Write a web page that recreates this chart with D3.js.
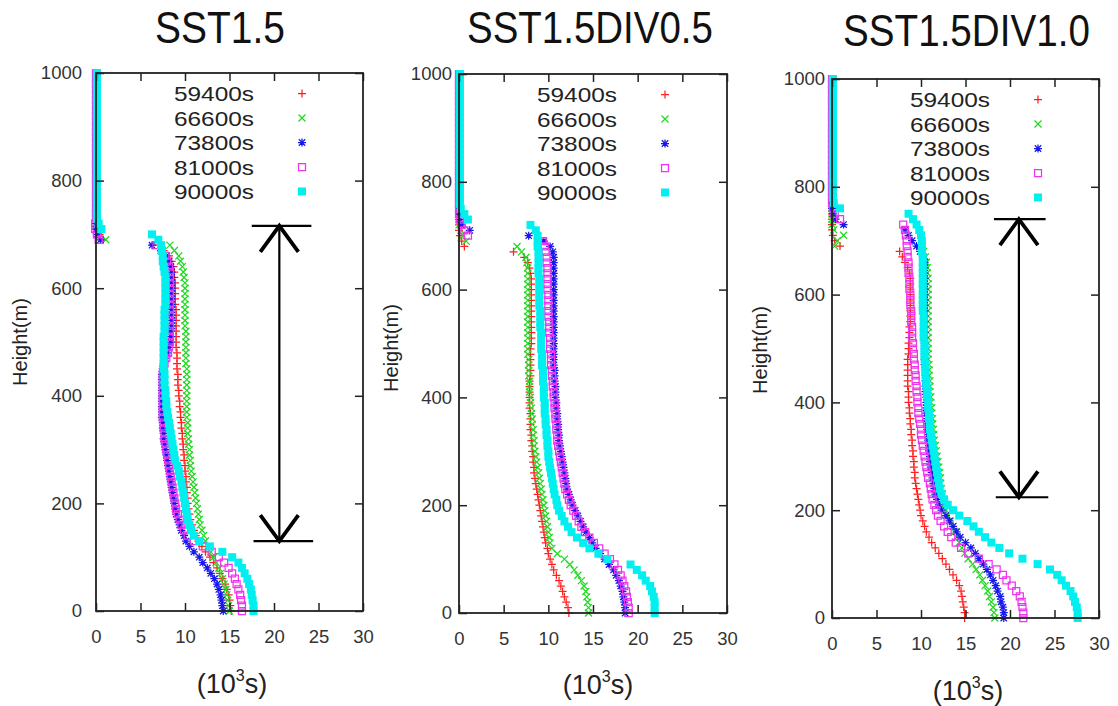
<!DOCTYPE html>
<html><head><meta charset="utf-8">
<script src="https://cdn.jsdelivr.net/npm/d3@7"></script>
<style>html,body{margin:0;padding:0;background:#fff;} svg{display:block;}</style>
</head><body>
<script>
// ---------------- DATA ----------------
const heights = [
  0,10,20,30,40,50,60,70,80,90,
  100,110,120,130,140,150,160,170,180,190,
  200,210,220,230,240,250,260,270,280,290,
  300,310,320,330,340,350,360,370,380,390,
  400,410,420,430,440,450,460,470,480,490,
  500,510,520,530,540,550,560,570,580,590,
  600,610,620,630,640,650,660,670,680,690,
  700,710,720,730,740,750,760,770,780,790,
  800,810,820,830,840,850,860,870,880,890,
  900,910,920,930,940,950,960,970,980,990,
  1000];
const timeLabels = ["59400s","66600s","73800s","81000s","90000s"];
const panelTitles = ["SST1.5","SST1.5DIV0.5","SST1.5DIV1.0"];
const xTickValues = [0,5,10,15,20,25,30];
const yTickValues = [0,200,400,600,800,1000];

// ---- SST1.5 ----
const sst15_t59400 = [
  15.2,15.1,15.0,14.9,14.7,14.5,14.2,13.9,13.6,13.2,
  12.8,12.3,11.9,11.5,11.2,11.0,10.8,10.6,10.5,10.4,
  10.3,10.3,10.2,10.2,10.1,10.1,10.0,10.0,9.9,9.9,
  9.8,9.8,9.7,9.7,9.6,9.6,9.5,9.5,9.4,9.4,
  9.3,9.3,9.2,9.2,9.2,9.1,9.1,9.1,9.1,9.0,
  9.0,9.0,9.0,9.0,9.0,9.0,9.0,8.9,8.9,8.9,
  8.9,8.9,8.8,8.8,8.7,8.5,8.2,7.6,6.4,0.8,
  0.4,0.1,0,0,0,0,0,0,0,0,
  0,0,0,0,0,0,0,0,0,0,
  0,0,0,0,0,0,0,0,0,0,
  0];
const sst15_t66600 = [
  15.0,14.9,14.8,14.7,14.6,14.4,14.2,14.0,13.8,13.5,
  13.2,12.9,12.6,12.3,12.1,11.9,11.7,11.6,11.5,11.4,
  11.3,11.2,11.1,11.0,10.9,10.8,10.7,10.6,10.6,10.5,
  10.5,10.4,10.4,10.3,10.3,10.3,10.2,10.2,10.2,10.2,
  10.2,10.2,10.2,10.2,10.2,10.2,10.1,10.1,10.1,10.1,
  10.1,10.1,10.1,10.0,10.0,10.0,10.0,10.0,10.0,10.0,
  10.0,10.0,9.9,9.8,9.7,9.5,9.3,8.8,8.3,1.1,
  0.5,0.2,0,0,0,0,0,0,0,0,
  0,0,0,0,0,0,0,0,0,0,
  0,0,0,0,0,0,0,0,0,0,
  0];
const sst15_t73800 = [
  14.3,14.2,14.1,14.0,13.8,13.6,13.3,12.9,12.5,12.0,
  11.6,11.0,10.5,10.1,9.9,9.6,9.4,9.2,9.0,8.9,
  8.8,8.7,8.6,8.5,8.4,8.3,8.2,8.1,8.0,7.9,
  7.8,7.7,7.6,7.6,7.5,7.5,7.4,7.4,7.4,7.4,
  7.4,7.4,7.4,7.4,7.4,7.5,7.6,7.8,8.0,8.2,
  8.4,8.4,8.4,8.5,8.5,8.5,8.5,8.5,8.5,8.5,
  8.5,8.5,8.5,8.5,8.4,8.2,7.9,7.3,6.3,0.5,
  0.1,0,0,0,0,0,0,0,0,0,
  0,0,0,0,0,0,0,0,0,0,
  0,0,0,0,0,0,0,0,0,0,
  0];
const sst15_t81000 = [
  16.4,16.4,16.3,16.2,16.0,15.8,15.6,15.3,14.9,14.4,
  13.8,13.0,12.0,11.0,10.3,9.9,9.6,9.4,9.2,9.0,
  8.9,8.8,8.7,8.6,8.5,8.4,8.3,8.2,8.1,8.0,
  7.9,7.8,7.7,7.7,7.6,7.6,7.5,7.5,7.5,7.5,
  7.5,7.5,7.5,7.5,7.5,7.6,7.7,7.9,8.1,8.2,
  8.3,8.3,8.3,8.3,8.3,8.3,8.3,8.3,8.3,8.3,
  8.3,8.3,8.3,8.3,8.2,8.0,7.8,7.4,6.8,0.3,
  0.1,-0.1,-0.1,0,0,0,0,0,0,0,
  0,0,0,0,0,0,0,0,0,0,
  0,0,0,0,0,0,0,0,0,0,
  0];
const sst15_t90000 = [
  17.7,17.7,17.6,17.5,17.4,17.2,17.0,16.7,16.4,16.0,
  15.3,14.2,12.8,11.6,11.0,10.7,10.5,10.3,10.2,10.1,
  10.0,9.9,9.8,9.7,9.6,9.4,9.3,9.1,8.9,8.8,
  8.7,8.6,8.5,8.4,8.3,8.2,8.1,8.0,7.9,7.9,
  7.8,7.8,7.7,7.7,7.7,7.6,7.6,7.6,7.6,7.6,
  7.6,7.6,7.7,7.7,7.7,7.7,7.7,7.8,7.8,7.8,
  7.8,7.8,7.8,7.7,7.6,7.5,7.5,7.4,7.3,7.0,
  6.3,0.6,0.3,0.1,0.1,0.1,0.1,0.1,0.1,0.1,
  0.1,0.1,0.1,0.1,0.1,0.1,0.1,0.1,0.1,0.1,
  0.1,0.1,0.1,0.1,0.1,0.1,0.1,0.1,0.1,0.1,
  0.1];

// ---- SST1.5DIV0.5 ----
const div05_t59400 = [
  12.3,12.2,12.0,11.8,11.6,11.4,11.2,10.9,10.6,10.4,
  10.2,10.0,9.9,9.7,9.6,9.5,9.4,9.3,9.2,9.1,
  9.0,8.9,8.8,8.7,8.6,8.5,8.4,8.4,8.3,8.3,
  8.2,8.2,8.1,8.1,8.0,8.0,8.0,8.0,7.9,7.9,
  7.9,7.9,7.9,7.9,8.0,8.0,8.0,8.0,8.0,8.0,
  8.1,8.1,8.1,8.1,8.1,8.1,8.1,8.1,8.1,8.1,
  8.1,8.1,8.1,8.0,7.9,7.7,7.3,6.1,0.6,0.3,
  0.1,0,0,0,0,0,0,0,0,0,
  0,0,0,0,0,0,0,0,0,0,
  0,0,0,0,0,0,0,0,0,0,
  0];
const div05_t66600 = [
  14.5,14.5,14.4,14.3,14.2,14.0,13.7,13.3,12.9,12.4,
  11.8,11.0,10.4,10.2,10.1,10.0,9.9,9.8,9.7,9.6,
  9.5,9.4,9.3,9.2,9.1,9.0,8.9,8.8,8.7,8.6,
  8.5,8.4,8.4,8.3,8.3,8.2,8.2,8.1,8.1,8.0,
  8.0,7.9,7.9,7.9,7.8,7.8,7.8,7.8,7.7,7.7,
  7.7,7.7,7.7,7.7,7.7,7.7,7.7,7.7,7.7,7.7,
  7.7,7.7,7.7,7.7,7.7,7.6,7.5,7.0,6.5,0.8,
  0.4,0.2,0,0,0,0,0,0,0,0,
  0,0,0,0,0,0,0,0,0,0,
  0,0,0,0,0,0,0,0,0,0,
  0];
const div05_t73800 = [
  18.6,18.6,18.5,18.4,18.3,18.1,17.9,17.6,17.3,16.8,
  16.3,15.8,15.3,14.9,14.6,14.2,13.9,13.6,13.3,13.0,
  12.7,12.5,12.3,12.1,12.0,11.9,11.8,11.7,11.6,11.5,
  11.4,11.3,11.2,11.2,11.1,11.1,11.0,11.0,10.9,10.9,
  10.8,10.8,10.8,10.7,10.7,10.7,10.6,10.6,10.6,10.6,
  10.6,10.6,10.6,10.6,10.6,10.6,10.6,10.6,10.6,10.6,
  10.6,10.6,10.6,10.6,10.6,10.6,10.6,10.5,10.2,9.5,
  7.8,1.2,0.3,0.1,0,0,0,0,0,0,
  0,0,0,0,0,0,0,0,0,0,
  0,0,0,0,0,0,0,0,0,0,
  0];
const div05_t81000 = [
  19.0,19.0,18.9,18.8,18.7,18.5,18.3,18.1,17.8,17.4,
  16.9,16.3,15.7,15.1,14.6,14.1,13.7,13.4,13.1,12.8,
  12.5,12.3,12.1,11.9,11.8,11.7,11.6,11.5,11.4,11.3,
  11.2,11.1,11.0,11.0,10.9,10.9,10.8,10.8,10.7,10.7,
  10.6,10.6,10.5,10.5,10.4,10.4,10.3,10.3,10.3,10.2,
  10.2,10.2,10.1,10.1,10.1,10.0,10.0,10.0,10.0,10.0,
  9.9,9.9,9.9,9.9,9.9,9.8,9.8,9.7,9.6,9.4,
  1.0,0.6,0.3,0.1,0,0,0,0,0,0,
  0,0,0,0,0,0,0,0,0,0,
  0,0,0,0,0,0,0,0,0,0,
  0];
const div05_t90000 = [
  21.9,21.9,21.9,21.8,21.6,21.4,20.9,20.5,19.9,19.2,
  16.6,15.6,14.6,13.9,13.2,12.6,12.2,11.8,11.5,11.2,
  11.0,10.9,10.7,10.6,10.5,10.4,10.3,10.2,10.1,10.0,
  10.0,9.9,9.9,9.8,9.8,9.7,9.7,9.6,9.6,9.6,
  9.5,9.5,9.5,9.4,9.4,9.4,9.3,9.3,9.3,9.2,
  9.2,9.2,9.2,9.1,9.1,9.1,9.1,9.0,9.0,9.0,
  9.0,9.0,9.0,8.9,8.9,8.9,8.9,8.9,8.8,8.8,
  8.8,8.6,8.0,1.0,0.6,0.2,0.1,0.1,0.1,0.1,
  0.1,0.1,0.1,0.1,0.1,0.1,0.1,0.1,0.1,0.1,
  0.1,0.1,0.1,0.1,0.1,0.1,0.1,0.1,0.1,0.1,
  0.1];

// ---- SST1.5DIV1.0 ----
const div10_t59400 = [
  14.9,14.9,14.8,14.7,14.6,14.5,14.3,14.0,13.6,13.2,
  12.8,12.4,12.0,11.6,11.2,10.9,10.6,10.4,10.2,10.0,
  9.9,9.8,9.7,9.6,9.5,9.4,9.3,9.3,9.2,9.2,
  9.1,9.1,9.0,9.0,8.9,8.9,8.8,8.8,8.7,8.7,
  8.6,8.6,8.6,8.5,8.5,8.5,8.5,8.5,8.5,8.6,
  8.6,8.6,8.7,8.7,8.7,8.8,8.8,8.8,8.8,8.8,
  8.8,8.8,8.8,8.8,8.7,8.5,8.2,7.9,7.6,0.9,
  0.3,0.1,0,0,0,0,0,0,0,0,
  0,0,0,0,0,0,0,0,0,0,
  0,0,0,0,0,0,0,0,0,0,
  0];
const div10_t66600 = [
  18.3,18.2,18.1,17.9,17.7,17.5,17.2,16.9,16.6,16.2,
  15.8,15.3,14.9,14.6,14.3,14.0,13.8,13.6,13.3,13.0,
  12.8,12.6,12.5,12.4,12.3,12.2,12.2,12.1,12.0,11.9,
  11.8,11.7,11.6,11.5,11.4,11.4,11.3,11.3,11.2,11.2,
  11.1,11.1,11.0,11.0,11.0,10.9,10.9,10.9,10.8,10.8,
  10.8,10.8,10.8,10.8,10.8,10.8,10.8,10.8,10.8,10.8,
  10.8,10.8,10.8,10.8,10.7,10.7,10.6,10.5,10.3,0.3,
  0.6,1.3,0.2,0,0,0,0,0,0,0,
  0,0,0,0,0,0,0,0,0,0,
  0,0,0,0,0,0,0,0,0,0,
  0];
const div10_t73800 = [
  19.3,19.3,19.2,19.0,18.9,18.6,18.4,18.1,17.8,17.4,
  17.0,16.5,16.1,15.6,15.0,14.4,14.0,13.6,13.2,12.8,
  12.3,12.0,11.8,11.6,11.5,11.4,11.3,11.2,11.1,11.0,
  11.0,10.9,10.9,10.8,10.8,10.7,10.7,10.7,10.6,10.6,
  10.6,10.6,10.5,10.5,10.5,10.5,10.5,10.4,10.4,10.4,
  10.4,10.4,10.4,10.4,10.4,10.4,10.4,10.4,10.4,10.4,
  10.4,10.4,10.4,10.4,10.4,10.4,10.4,10.2,9.9,9.5,
  9.0,8.6,8.2,1.3,0.4,0.1,0,0,0,0,
  0,0,0,0,0,0,0,0,0,0,
  0,0,0,0,0,0,0,0,0,0,
  0];
const div10_t81000 = [
  21.5,21.5,21.4,21.3,21.1,20.7,20.2,19.6,19.2,18.5,
  17.6,16.5,15.3,14.5,13.9,13.4,13.0,12.6,12.2,11.9,
  11.7,11.5,11.3,11.2,11.1,11.0,10.8,10.7,10.6,10.5,
  10.4,10.3,10.2,10.1,10.0,10.0,9.9,9.8,9.7,9.7,
  9.6,9.6,9.5,9.5,9.4,9.4,9.3,9.3,9.2,9.2,
  9.1,9.1,9.0,9.0,9.0,8.9,8.9,8.9,8.8,8.8,
  8.8,8.7,8.7,8.7,8.6,8.6,8.6,8.5,8.5,8.4,
  8.4,8.3,8.2,8.0,0.9,0.3,0.1,0,0,0,
  0,0,0,0,0,0,0,0,0,0,
  0,0,0,0,0,0,0,0,0,0,
  0];
const div10_t90000 = [
  27.6,27.6,27.5,27.3,27.1,26.8,26.3,25.8,25.3,24.5,
  23.1,21.4,19.9,18.8,17.9,17.2,16.5,15.9,15.2,14.3,
  13.6,13.0,12.6,12.3,12.1,12.0,11.9,11.8,11.7,11.6,
  11.5,11.4,11.3,11.2,11.1,11.0,11.0,10.9,10.9,10.8,
  10.8,10.7,10.7,10.6,10.6,10.5,10.5,10.5,10.4,10.4,
  10.4,10.4,10.3,10.3,10.3,10.3,10.3,10.2,10.2,10.2,
  10.2,10.2,10.2,10.2,10.2,10.2,10.2,10.2,10.1,10.1,
  10.1,10.0,9.8,9.5,9.1,8.6,0.9,0.2,0.1,0.1,
  0.1,0.1,0.1,0.1,0.1,0.1,0.1,0.1,0.1,0.1,
  0.1,0.1,0.1,0.1,0.1,0.1,0.1,0.1,0.1,0.1,
  0.1];

// arrow annotations (data units: x in 10^3 s, heights in m)
const arrowPanels = [0, 2];
const arrowX = [20.6, 21.0];
const arrowTop = [716, 740];
const arrowBottom = [130, 224];
const arrowTopBar = [[17.5, 24.2], [18.2, 24.0]];
const arrowBottomBar = [[17.7, 24.4], [18.4, 24.3]];

// ---------------- DRAWING ----------------
const panelSeries = [
  [sst15_t59400, sst15_t66600, sst15_t73800, sst15_t81000, sst15_t90000],
  [div05_t59400, div05_t66600, div05_t73800, div05_t81000, div05_t90000],
  [div10_t59400, div10_t66600, div10_t73800, div10_t81000, div10_t90000]
];
const layout = [
  {l:96,  r:363,  t:73, b:611, yPad:14, title:{x:155, y:43, w:130}, yl:{x:27, y:342}, xl:{x:232, y:693}},
  {l:459, r:727,  t:74, b:613, yPad:7,  title:{x:467, y:43, w:246}, yl:{x:398, y:348}, xl:{x:598, y:694}},
  {l:832, r:1099, t:79, b:618, yPad:7,  title:{x:843, y:46, w:247}, yl:{x:767, y:350}, xl:{x:968, y:700}}
];
const markerStyles = [
  {shape:"plus",   color:"#ff2020", size:8},
  {shape:"cross",  color:"#22d822", size:7},
  {shape:"star",   color:"#1818ee", size:8},
  {shape:"square", color:"#ee35ee", size:7},
  {shape:"filled", color:"#00f0f0", size:8}
];
const FONT = "'Liberation Sans', Arial, Helvetica, sans-serif";

function markerPath(shape, s) {
  const h = s / 2, c = h * 0.8;
  if (shape === "plus") return `M${-h},0H${h}M0,${-h}V${h}`;
  if (shape === "cross") return `M${-h},${-h}L${h},${h}M${-h},${h}L${h},${-h}`;
  if (shape === "star") return `M${-h},0H${h}M0,${-h}V${h}M${-c},${-c}L${c},${c}M${-c},${c}L${c},${-c}`;
  return `M${-h},${-h}H${h}V${h}H${-h}Z`;
}
function drawMarker(sel, st, cx, cy) {
  const p = sel.append("path")
    .attr("transform", `translate(${cx},${cy})`)
    .attr("d", markerPath(st.shape, st.size));
  if (st.shape === "filled") p.attr("fill", st.color).attr("stroke", "none");
  else p.attr("fill", "none").attr("stroke", st.color).attr("stroke-width", 1.25);
  return p;
}

const svg = d3.select("body").append("svg").attr("width", 1118).attr("height", 706)
  .style("background", "#fff");

const scales = layout.map(L => ({
  x: d3.scaleLinear().domain([0, 30]).range([L.l, L.r]),
  y: d3.scaleLinear().domain([0, 1000]).range([L.b, L.t])
}));

layout.forEach((L, pi) => {
  const {x, y} = scales[pi];
  const g = svg.append("g");

  // series markers
  panelSeries[pi].forEach((vals, si) => {
    const st = markerStyles[si];
    const gs = g.append("g");
    vals.forEach((v, i) => drawMarker(gs, st, x(v), y(heights[i])));
  });

  // axes (inward ticks, mirrored)
  const axStyle = sel => {
    sel.select(".domain").remove();
    sel.selectAll(".tick line").attr("stroke", "#222").attr("stroke-width", 1.5);
    sel.selectAll(".tick text").attr("fill", "#333").style("font-family", FONT).style("font-size", "18.5px");
  };
  g.append("g").attr("transform", `translate(0,${L.b})`)
    .call(d3.axisBottom(x).tickValues(xTickValues).tickFormat(d3.format("d")).tickSizeInner(-8).tickSizeOuter(0).tickPadding(19))
    .call(axStyle);
  g.append("g").attr("transform", `translate(0,${L.t})`)
    .call(d3.axisTop(x).tickValues(xTickValues).tickFormat(() => "").tickSizeInner(-8).tickSizeOuter(0))
    .call(axStyle);
  g.append("g").attr("transform", `translate(${L.l},0)`)
    .call(d3.axisLeft(y).tickValues(yTickValues).tickFormat(d3.format("d")).tickSizeInner(-8).tickSizeOuter(0).tickPadding(L.yPad))
    .call(axStyle);
  g.append("g").attr("transform", `translate(${L.r},0)`)
    .call(d3.axisRight(y).tickValues(yTickValues).tickFormat(() => "").tickSizeInner(-8).tickSizeOuter(0))
    .call(axStyle);
  g.append("rect").attr("x", L.l).attr("y", L.t).attr("width", L.r - L.l).attr("height", L.b - L.t)
    .attr("fill", "none").attr("stroke", "#222").attr("stroke-width", 1.8);

  // legend
  timeLabels.forEach((lab, k) => {
    const cy = L.t + 20.5 + k * 24.5;
    svg.append("text").attr("x", L.l + 158).attr("y", cy + 7.5)
      .attr("text-anchor", "end").attr("textLength", 80).attr("lengthAdjust", "spacingAndGlyphs")
      .style("font-family", FONT).style("font-size", "21px").attr("fill", "#222").text(lab);
    drawMarker(svg, markerStyles[k], L.l + 206, cy);
  });

  // title (horizontally condensed by a scale transform to the reference width)
  const tt = svg.append("text").attr("x", 0).attr("y", 0)
    .style("font-family", FONT).style("font-size", "45px")
    .attr("fill", "#111").text(panelTitles[pi]);
  const natural = tt.node().getComputedTextLength();
  const sx = L.title.w / natural;
  tt.attr("transform", `translate(${L.title.x},${L.title.y}) scale(${sx},1)`);

  // y label
  svg.append("text").attr("transform", `translate(${L.yl.x},${L.yl.y}) rotate(-90)`)
    .attr("text-anchor", "middle").style("font-family", FONT).style("font-size", "20px")
    .attr("fill", "#222").text("Height(m)");

  // x label (10^3 s)
  const xl = svg.append("text").attr("x", L.xl.x).attr("y", L.xl.y).attr("text-anchor", "middle")
    .style("font-family", FONT).style("font-size", "27px").attr("fill", "#222");
  xl.append("tspan").text("(10");
  xl.append("tspan").attr("dy", -12).style("font-size", "16px").text("3");
  xl.append("tspan").attr("dy", 12).text("s)");
});

// arrows
arrowPanels.forEach((pi, k) => {
  const {x, y} = scales[pi];
  const ax = x(arrowX[k]), yt = y(arrowTop[k]), yb = y(arrowBottom[k]);
  const g = svg.append("g").attr("stroke", "#000").attr("fill", "none");
  g.append("line").attr("x1", x(arrowTopBar[k][0])).attr("x2", x(arrowTopBar[k][1]))
    .attr("y1", yt).attr("y2", yt).attr("stroke-width", 2.2);
  g.append("line").attr("x1", x(arrowBottomBar[k][0])).attr("x2", x(arrowBottomBar[k][1]))
    .attr("y1", yb).attr("y2", yb).attr("stroke-width", 2.2);
  g.append("line").attr("x1", ax).attr("x2", ax).attr("y1", yt).attr("y2", yb).attr("stroke-width", 2.2);
  g.append("path").attr("d", `M${ax - 19},${yt + 26}L${ax},${yt}L${ax + 19},${yt + 26}`).attr("stroke-width", 3.8);
  g.append("path").attr("d", `M${ax - 19},${yb - 26}L${ax},${yb}L${ax + 19},${yb - 26}`).attr("stroke-width", 3.8);
});
</script>
</body></html>
